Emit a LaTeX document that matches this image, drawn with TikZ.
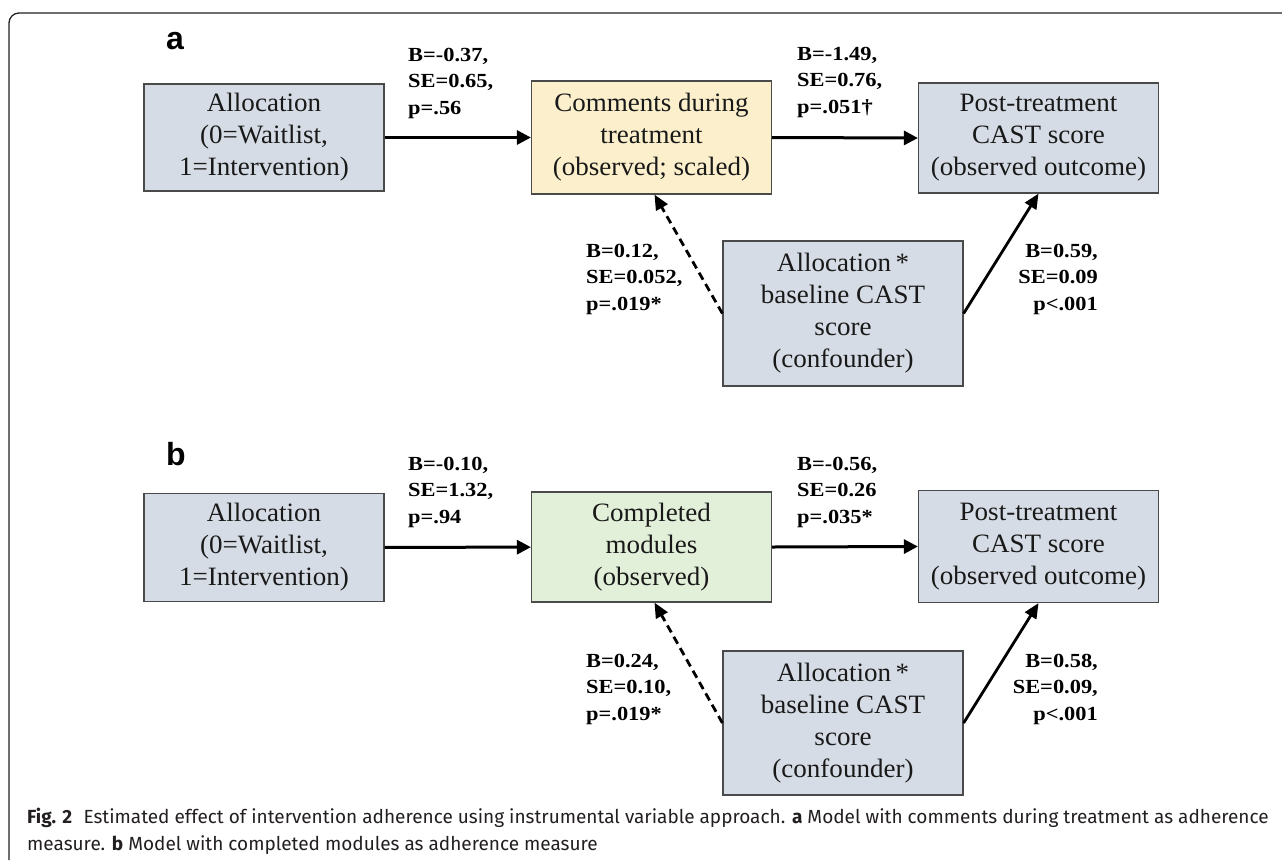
\documentclass[tikz,border=0pt]{standalone}
\usepackage{fontspec}
\setmainfont{Liberation Serif}
\newfontfamily\boxfont{Liberation Serif}[FakeStretch=1.02]
\newfontfamily\labfont{Liberation Serif}[FakeStretch=1.12]
\newfontfamily\panelfont{Liberation Sans}
\newfontfamily\capfont{Fira Sans}
\usepackage{tikz}
\usetikzlibrary{arrows,arrows.meta,positioning}

\definecolor{boxgrey}{HTML}{D6DCE5}
\definecolor{boxyellow}{HTML}{FCEFCC}
\definecolor{boxgreen}{HTML}{E2F0D9}
\definecolor{boxline}{HTML}{4A4A4A}
\definecolor{captext}{HTML}{231F20}

\begin{document}
\begin{tikzpicture}[
    x=1pt, y=-1pt,
    box/.style={rectangle, draw=boxline, line width=1.2pt, align=center, inner sep=0pt,
        minimum width=240pt, text=black!90, font={\boxfont\fontsize{26.5}{32}\selectfont}},
    grey/.style={box, fill=boxgrey},
    yellow/.style={box, fill=boxyellow},
    green/.style={box, fill=boxgreen},
    lab/.style={inner sep=0pt, align=left, font={\labfont\bfseries\fontsize{20}{26.5}\selectfont}},
    labr/.style={lab, align=right},
    panel/.style={inner sep=0pt, font={\panelfont\bfseries\fontsize{32}{32}\selectfont}},
    arrow/.style={-{Triangle[length=14pt,width=14pt]}, line width=3pt},
    diag/.style={-{Triangle[length=15pt,width=13pt]}, line width=2.8pt},
    dasharrow/.style={diag, dash pattern=on 8pt off 5pt}
]
\useasboundingbox (0,0) rectangle (1282,860);

% Frame
\draw[captext, line width=1.3pt, rounded corners=10pt] (9,860) -- (9,13) -- (1282,13);

% Panel a
\node[panel, anchor=base west] (panel_a) at (166,49) {a};
\node[grey, minimum height=107pt] (alloc_a) at (264,137.5) {Allocation\\(0=Waitlist,\\1=Intervention)};
\node[yellow, minimum height=113pt] (comm_a) at (651.5,137.5) {Comments during\\treatment\\(observed; scaled)};
\node[grey, minimum height=110pt] (post_a) at (1038.5,138) {Post-treatment\\CAST score\\(observed outcome)};
\node[grey, minimum height=145pt] (conf_a) at (843,313.5) {Allocation\,*\\baseline CAST\\score\\(confounder)};

\node[lab, anchor=north west] (est_a1) at (408,47.5) {B=-0.37,\\SE=0.65,\\p=.56};
\node[lab, anchor=north west] (est_a2) at (797,47) {B=-1.49,\\SE=0.76,\\p=.051†};
\node[lab, anchor=north west] (est_a3) at (586,243.5) {B=0.12,\\SE=0.052,\\p=.019*};
\node[labr, anchor=north east] (est_a4) at (1098,243.5) {B=0.59,\\SE=0.09\\p<.001};

\draw[arrow] (alloc_a) -- (comm_a);
\draw[arrow] (comm_a.east) -- (post_a.west);
\draw[dasharrow] (conf_a.west) -- ([xshift=3pt]comm_a.south);
\draw[diag] (conf_a.east) -- (post_a.south);

% Panel b
\node[panel, anchor=base west] (panel_b) at (166,465) {b};
\node[grey, minimum height=108pt] (alloc_b) at (264,547.5) {Allocation\\(0=Waitlist,\\1=Intervention)};
\node[green, minimum height=110pt] (mod_b) at (651.5,547) {Completed\\modules\\(observed)};
\node[grey, minimum height=112pt] (post_b) at (1038.5,546.5) {Post-treatment\\CAST score\\(observed outcome)};
\node[grey, minimum height=144pt] (conf_b) at (843,723) {Allocation\,*\\baseline CAST\\score\\(confounder)};

\node[lab, anchor=north west] (est_b1) at (408,456.5) {B=-0.10,\\SE=1.32,\\p=.94};
\node[lab, anchor=north west] (est_b2) at (797,456.5) {B=-0.56,\\SE=0.26\\p=.035*};
\node[lab, anchor=north west] (est_b3) at (586,653.5) {B=0.24,\\SE=0.10,\\p=.019*};
\node[labr, anchor=north east] (est_b4) at (1098,653.5) {B=0.58,\\SE=0.09,\\p<.001};

\draw[arrow] (alloc_b) -- (mod_b);
\draw[arrow] (mod_b.east) -- (post_b.west);
\draw[dasharrow] (conf_b.west) -- ([xshift=3pt]mod_b.south);
\draw[diag] (conf_b.east) -- (post_b.south);

% Caption
\node[anchor=north west, inner sep=0pt, align=left, text=captext,
      font={\capfont\fontsize{19}{27}\selectfont}] (caption) at (27,808)
  {\textbf{Fig. 2}\hspace{0.6em}Estimated effect of intervention adherence using instrumental variable approach. \textbf{a} Model with comments during treatment as adherence\\
   measure. \textbf{b} Model with completed modules as adherence measure};

\end{tikzpicture}
\end{document}
